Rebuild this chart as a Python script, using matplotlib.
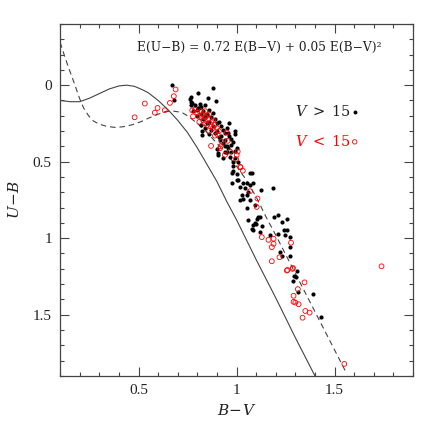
import matplotlib.pyplot as plt
from matplotlib.ticker import MultipleLocator

# intrinsic sequence (solid) and reddened sequence (dashed)
solid_bv = [0.10, 0.15, 0.20, 0.25, 0.30, 0.35, 0.40, 0.44, 0.48, 0.52, 0.55, 0.60, 0.65,
            0.70, 0.75, 0.80, 0.85, 0.90, 0.95, 1.00, 1.10, 1.20, 1.30, 1.40]
solid_ub = [0.10, 0.108, 0.108, 0.085, 0.055, 0.025, 0.005, 0.0, 0.008, 0.03, 0.05, 0.10, 0.16,
            0.23, 0.31, 0.41, 0.52, 0.63, 0.76, 0.88, 1.14, 1.39, 1.65, 1.90]

dash_bv = [0.10, 0.12, 0.143, 0.17, 0.20, 0.22, 0.245, 0.27, 0.30, 0.34, 0.38, 0.42, 0.467,
           0.51, 0.552, 0.60, 0.638, 0.68, 0.72, 0.75, 0.80, 0.85, 0.90, 0.95, 1.00, 1.05,
           1.10, 1.15, 1.20, 1.30, 1.40, 1.50, 1.56]
dash_ub = [-0.28, -0.20, -0.114, -0.02, 0.09, 0.15, 0.20, 0.235, 0.255, 0.27, 0.276, 0.272, 0.259,
           0.24, 0.215, 0.19, 0.172, 0.17, 0.178, 0.20, 0.25, 0.31, 0.38, 0.45, 0.53, 0.62,
           0.73, 0.86, 0.98, 1.23, 1.48, 1.73, 1.88]

# V > 15 (filled black)
faint_bv = [0.671, 0.68, 0.767, 0.767, 0.878, 0.805, 0.853, 0.894, 0.813, 0.805, 0.771,
            0.79, 0.80, 0.81, 0.82, 0.83, 0.84, 0.85, 0.86, 0.87, 0.88, 0.89, 0.90, 0.91,
            0.92, 0.93, 0.94, 0.95, 0.96, 0.97, 0.98, 0.86, 0.88, 0.90, 0.92, 0.94, 0.83,
            0.85, 0.87, 0.89, 0.91, 0.93, 0.82, 0.84, 0.95, 0.97, 0.99, 0.80, 0.78, 0.77,
            0.76, 0.82, 0.84, 0.86, 0.99, 0.96, 0.822, 0.825, 0.958, 1.004, 0.907, 0.941,
            0.993, 0.941, 0.907, 0.958, 0.97, 0.967, 0.993, 0.933, 1.01, 0.975, 0.98, 1.069,
            1.078, 0.975, 1.001, 1.018, 1.035, 1.052, 1.069, 1.044, 1.06, 1.052, 1.035, 1.018,
            1.069, 1.086, 1.124, 1.185, 1.055, 1.095, 1.06, 1.104, 1.12, 1.189, 1.214, 1.232,
            1.257, 1.086, 1.078, 1.12, 1.128, 1.214, 1.24, 1.257, 1.249, 1.172, 1.274, 1.274,
            1.223, 1.232, 1.274, 1.309, 1.291, 1.305, 1.286, 1.313, 1.39, 1.433, 1.10, 1.083,
            1.112, 1.092, 1.027, 1.009, 0.984, 0.95, 0.98, 1.0, 0.915, 0.9]
faint_ub = [0.002, 0.10, 0.079, 0.112, 0.017, 0.05, 0.083, 0.105, 0.122, 0.149, 0.116,
            0.13, 0.16, 0.15, 0.14, 0.17, 0.13, 0.19, 0.16, 0.21, 0.18, 0.22, 0.25, 0.24,
            0.27, 0.29, 0.31, 0.28, 0.33, 0.35, 0.37, 0.24, 0.27, 0.30, 0.33, 0.36, 0.22,
            0.25, 0.29, 0.31, 0.34, 0.38, 0.19, 0.20, 0.40, 0.39, 0.43, 0.20, 0.17, 0.13,
            0.09, 0.26, 0.28, 0.32, 0.30, 0.25, 0.324, 0.30, 0.313, 0.412, 0.445, 0.434,
            0.318, 0.40, 0.456, 0.412, 0.434, 0.467, 0.478, 0.478, 0.50, 0.576, 0.56, 0.572,
            0.572, 0.642, 0.62, 0.664, 0.642, 0.638, 0.653, 0.675, 0.697, 0.719, 0.741, 0.752,
            0.752, 0.642, 0.682, 0.669, 0.80, 0.785, 0.884, 0.873, 0.96, 0.862, 0.851, 0.895,
            0.873, 0.916, 0.938, 0.862, 0.92, 0.971, 0.949, 0.949, 0.982, 0.982, 0.993, 1.059,
            1.092, 1.114, 1.114, 1.212, 1.245, 1.252, 1.278, 1.355, 1.366, 1.515, 0.905, 0.945,
            0.862, 0.90, 0.719, 0.62, 0.50, 0.44, 0.53, 0.58, 0.36, 0.42]

# V < 15 (open red)
bright_bv = [0.532, 0.48, 0.583, 0.597, 0.634, 0.66, 0.68, 0.689, 0.774, 0.788, 0.778,
             0.80, 0.81, 0.82, 0.83, 0.84, 0.85, 0.86, 0.87, 0.88, 0.89, 0.83, 0.85, 0.87,
             0.82, 0.84, 0.86, 0.88, 0.90, 0.91, 0.81, 0.84, 0.86, 0.89,
             0.87, 0.919, 0.955, 0.904, 1.006, 0.967, 0.95, 0.924, 0.916, 0.998, 1.018,
             0.941, 1.001, 1.021, 1.032, 1.069, 1.107, 1.103, 1.129, 1.163, 1.189, 1.189,
             1.18, 1.278, 1.219, 1.18, 1.257, 1.286, 1.288, 1.26, 1.347, 1.313, 1.291, 1.291,
             1.30, 1.317, 1.351, 1.373, 1.337, 1.55, 1.74]
bright_ub = [0.12, 0.21, 0.18, 0.149, 0.164, 0.116, 0.072, 0.028, 0.165, 0.16, 0.204,
             0.18, 0.20, 0.17, 0.19, 0.21, 0.20, 0.22, 0.24, 0.23, 0.26, 0.23, 0.26, 0.27,
             0.21, 0.17, 0.19, 0.28, 0.28, 0.30, 0.24, 0.25, 0.30, 0.33,
             0.397, 0.40, 0.364, 0.324, 0.434, 0.434, 0.309, 0.368, 0.412, 0.484, 0.533,
             0.456, 0.456, 0.537, 0.559, 0.693, 0.741, 0.796, 0.993, 1.011, 1.004, 1.037,
             1.059, 1.03, 1.125, 1.151, 1.212, 1.201, 1.195, 1.208, 1.289, 1.333, 1.377, 1.416,
             1.421, 1.432, 1.476, 1.487, 1.52, 1.822, 1.184]

plt.rcParams['font.family'] = ['Liberation Serif', 'DejaVu Serif']
plt.rcParams['mathtext.fontset'] = 'dejavuserif'

fig = plt.figure(figsize=(4.36, 4.36), dpi=100)
ax = fig.add_axes([0.138, 0.138, 0.809, 0.807])

gray = '#444444'
ax.plot(solid_bv, solid_ub, color=gray, lw=0.8)
ax.plot(dash_bv, dash_ub, color=gray, lw=0.8, dashes=(5, 3.5))

ax.scatter(faint_bv, faint_ub, s=9, color='black', linewidths=0, zorder=3)
ax.scatter(bright_bv, bright_ub, s=12, facecolors='none', edgecolors='red',
           linewidths=0.6, zorder=4)

ax.set_xlim(0.1, 1.9)
ax.set_ylim(1.9, -0.4)
ax.xaxis.set_major_locator(MultipleLocator(0.5))
ax.xaxis.set_minor_locator(MultipleLocator(0.1))
ax.yaxis.set_major_locator(MultipleLocator(0.5))
ax.yaxis.set_minor_locator(MultipleLocator(0.1))
ax.xaxis.set_major_formatter(lambda v, p: f'{v:g}')
ax.yaxis.set_major_formatter(lambda v, p: f'{v:g}')
ax.tick_params(which='both', direction='in', top=True, right=True, colors=gray,
               labelcolor='#222222', labelsize=11, width=0.8)
ax.tick_params(which='major', length=6.5, pad=6)
ax.tick_params(which='minor', length=3)
for s in ax.spines.values():
    s.set_color(gray)
    s.set_linewidth(0.9)

ax.set_xlabel('$B\\!-\\!V$', fontsize=11, color='#222222', labelpad=4)
ax.set_ylabel('$U\\!-\\!B$', fontsize=11, color='#222222', labelpad=8)

ax.text(0.49, -0.245, 'E(U\u2212B) = 0.72 E(B\u2212V) + 0.05 E(B\u2212V)\u00b2',
        fontsize=8.8, family='DejaVu Serif', color='#222222', va='center')

ax.text(0.665, 0.75, '$V\\;>\\;15$', transform=ax.transAxes, fontsize=10.5,
        color='#222222', va='center')
ax.text(0.665, 0.665, '$V\\;<\\;15$', transform=ax.transAxes, fontsize=10.5,
        color='red', va='center')
ax.scatter([0.835], [0.75], s=8, color='black', linewidths=0, transform=ax.transAxes,
           clip_on=False)
ax.scatter([0.835], [0.665], s=10, facecolors='none', edgecolors='red', linewidths=0.6,
           transform=ax.transAxes, clip_on=False)

fig.savefig('out.png', dpi=100)
